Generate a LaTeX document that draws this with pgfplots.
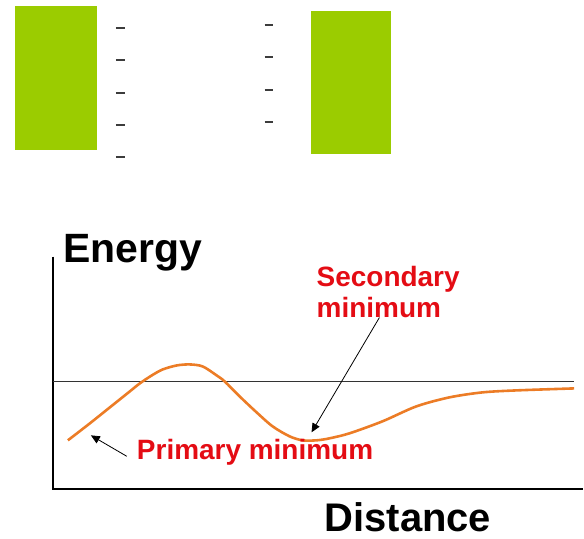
\documentclass[border=0pt]{standalone}
\usepackage{pgfplots}
\pgfplotsset{compat=1.18}
\usetikzlibrary{arrows.meta}
\usepackage{fontspec}
\setmainfont{Liberation Sans}
\begin{document}
\begin{tikzpicture}
  % colours
  \definecolor{plategreen}{RGB}{155, 204, 0}
  \definecolor{dashgray}{RGB}{60, 60, 60}
  \definecolor{curveorange}{RGB}{236, 124, 38}
  \definecolor{labelred}{RGB}{228, 12, 20}
  \begin{axis}[
      scale only axis,
      width=584pt, height=539pt,
      xmin=0, xmax=584,
      ymin=0, ymax=539,
      hide axis,
      clip=false,
    ]
    % invisible corners, so the page spans the whole frame
    \addplot [draw=none] coordinates {(0,0) (584,539)};
    % the two plates
    \addplot [draw=none, fill=plategreen] coordinates
      {(15,389) (97,389) (97,533) (15,533)} -- cycle;
    \addplot [draw=none, fill=plategreen] coordinates
      {(311,385) (392,385) (392,528) (311,528)} -- cycle;
    % charges beside the plates
    \foreach \yy in {511,479,446,414,382} {
      \addplot [dashgray, line width=2.2pt] coordinates {(116,\yy) (125,\yy)};
    }
    \foreach \yy in {514,482,449,417} {
      \addplot [dashgray, line width=2.2pt] coordinates {(265,\yy) (273,\yy)};
    }
    % energy diagram axes
    \addplot [black, line width=1.8pt] coordinates {(53,282) (53,49) (584,49)};
    \addplot [black!80, line width=1pt] coordinates {(53,157) (575,157)};
    % energy curve
    \addplot [curveorange, line width=2.6pt, smooth, tension=0.5] coordinates
      {
        (68,98) (90,115) (110,131) (130,147) (140,155)
        (152,163) (163,169) (177,173) (190,174) (203,172)
        (217,163) (225,157) (240,142) (257,126) (273,112)
        (290,102) (303,98) (317,98) (330,100) (350,105)
        (383,117) (417,132) (450,141) (483,146) (517,148)
        (575,150)
      };
    % arrows
    \addplot [black, line width=0.8pt, -{Triangle[length=9pt, width=8pt]}] coordinates {(380,221) (312,106)};
    \addplot [black, line width=0.8pt, -{Triangle[length=9pt, width=8pt]}] coordinates {(127,82) (91,103)};
    % labels
    \node [anchor=base west, inner sep=0pt, font=\fontsize{41}{48}\selectfont\bfseries] at (axis cs:63,276) {Energy};
    \node [anchor=base west, inner sep=0pt, font=\fontsize{40}{48}\selectfont\bfseries] at (axis cs:325,7) {Distance};
    \node [anchor=base west, inner sep=0pt, text=labelred, font=\fontsize{28}{32}\selectfont\bfseries] at (axis cs:317,252) {Secondary};
    \node [anchor=base west, inner sep=0pt, text=labelred, font=\fontsize{28}{32}\selectfont\bfseries] at (axis cs:317,221) {minimum};
    \node [anchor=base west, inner sep=0pt, text=labelred, font=\fontsize{28}{32}\selectfont\bfseries] at (axis cs:137,79) {Primary minimum};
  \end{axis}
\end{tikzpicture}
\end{document}
